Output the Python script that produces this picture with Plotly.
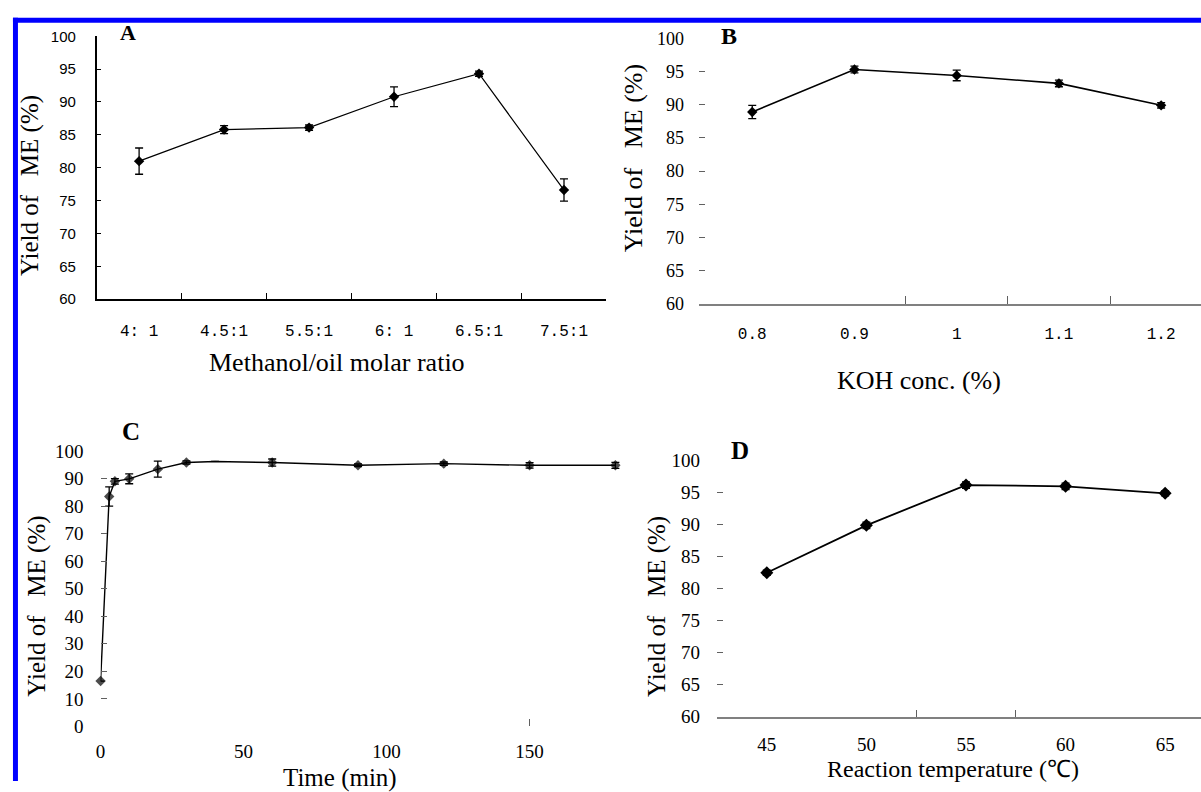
import plotly.graph_objects as go

# ---------------- data ----------------
# Panel A
ratio_labels = ["4: 1", "4.5:1", "5.5:1", "6: 1", "6.5:1", "7.5:1"]
ratio_yield = [81.0, 85.8, 86.1, 90.8, 94.3, 76.6]
ratio_err = [2.0, 0.6, 0.4, 1.5, 0.4, 1.7]

# Panel B
koh_conc = [0.8, 0.9, 1.0, 1.1, 1.2]
koh_labels = ["0.8", "0.9", "1", "1.1", "1.2"]
koh_yield = [88.9, 95.3, 94.4, 93.2, 89.9]
koh_err = [1.0, 0.5, 0.8, 0.5, 0.4]

# Panel C
time_min = [0, 3, 5, 10, 20, 30, 40, 60, 90, 120, 150, 180]
time_yield = [16.5, 83.5, 89.0, 89.9, 93.4, 95.8, 96.2, 95.8, 94.8, 95.4, 94.8, 94.8]
time_err = [None, 3.5, 1.0, 1.8, 2.9, 0.6, None, 1.3, 0.5, 0.6, 1.0, 1.1]
time_marker = [8, 8, 8, 8, 8, 8, 0, 8, 8, 8, 8, 8]
time_ticks = [0, 50, 100, 150]

# Panel D
temp_c = [45, 50, 55, 60, 65]
temp_yield = [82.5, 89.9, 96.2, 96.0, 94.9]
temp_err = [0.4, 0.5, 0.5, 0.5, 0.4]

W, H = 1201, 792


def px(x):
    return x / W


def py(y):
    return 1 - y / H


SERIF = "Liberation Serif"

fig = go.Figure()

mk = dict(symbol="diamond", color="black", size=8)
eb = dict(type="data", color="black", thickness=1.3, width=4)

fig.add_trace(go.Scatter(x=ratio_labels, y=ratio_yield, mode="lines+markers",
                         line=dict(color="black", width=1.2), marker=mk,
                         error_y=dict(array=ratio_err, **eb),
                         xaxis="x", yaxis="y", cliponaxis=False, showlegend=False))
fig.add_trace(go.Scatter(x=koh_conc, y=koh_yield, mode="lines+markers",
                         line=dict(color="black", width=1.6), marker=mk,
                         error_y=dict(array=koh_err, **eb),
                         xaxis="x2", yaxis="y2", cliponaxis=False, showlegend=False))
fig.add_trace(go.Scatter(x=time_min, y=time_yield, mode="lines+markers",
                         line=dict(color="black", width=1.4),
                         marker=dict(symbol="diamond", color="black", size=time_marker,
                                     line=dict(width=0)),
                         error_y=dict(array=time_err, **eb),
                         xaxis="x3", yaxis="y3", cliponaxis=False, showlegend=False))
fig.add_trace(go.Scatter(x=temp_c, y=temp_yield, mode="lines+markers",
                         line=dict(color="black", width=1.8),
                         marker=dict(symbol="diamond", color="black", size=10),
                         error_y=dict(array=temp_err, **eb),
                         xaxis="x4", yaxis="y4", cliponaxis=False, showlegend=False))

common = dict(showgrid=False, zeroline=False)

fig.update_layout(
    width=W, height=H, margin=dict(l=0, r=0, t=0, b=0),
    paper_bgcolor="white", plot_bgcolor="white",
    # Panel A
    xaxis=dict(domain=[px(92), px(604)], anchor="y", type="category",
               range=[-0.5, 5.5], showline=True, linecolor="black", linewidth=1.5,
               ticks="inside", tickson="boundaries", ticklen=6, tickcolor="black",
               tickfont=dict(family="Liberation Mono", size=16, color="black"),
               ticklabelstandoff=16, **common),
    yaxis=dict(domain=[py(297), py(27)], anchor="x", range=[60, 100], dtick=5,
               showline=True, linecolor="black", linewidth=1.5,
               ticks="inside", ticklen=5, tickcolor="black",
               tickfont=dict(family="Liberation Sans", size=15, color="black"),
               ticklabelstandoff=16, **common),
    # Panel B
    xaxis2=dict(domain=[px(697), 1], anchor="y2", range=[0.748, 1.239],
                showline=True, linecolor="#808080", linewidth=1.5,
                tickvals=koh_conc, ticktext=koh_labels, ticks="",
                minor=dict(tickvals=[0.95, 1.05, 1.15], ticks="inside", ticklen=8,
                           tickcolor="#606060", showgrid=False),
                tickfont=dict(family="Liberation Mono", size=16, color="black"),
                ticklabelstandoff=14, **common),
    yaxis2=dict(domain=[py(302), py(29)], anchor="x2", range=[60, 100], dtick=5,
                showline=False, ticks="inside", ticklen=6, tickcolor="#606060",
                tickfont=dict(family=SERIF, size=18, color="black"),
                ticklabelstandoff=14, **common),
    # Panel C
    xaxis3=dict(domain=[px(96), px(625)], anchor="y3", range=[0, 184.2],
                showline=False, tickvals=time_ticks, ticks="",
                minor=dict(tickvals=[150], ticks="inside", ticklen=7,
                           tickcolor="#606060", showgrid=False),
                tickfont=dict(family=SERIF, size=19, color="black"),
                ticklabelstandoff=12, **common),
    yaxis3=dict(domain=[py(736), py(453)], anchor="x3", range=[0, 100], dtick=10,
                showline=False, ticks="inside", ticklen=6, tickcolor="#606060",
                tickfont=dict(family=SERIF, size=19, color="black"),
                ticklabelstandoff=16, **common),
    # Panel D
    xaxis4=dict(domain=[px(715), 1], anchor="y4", range=[42.5, 66.8],
                showline=True, linecolor="#808080", linewidth=1.5,
                tickvals=temp_c, ticks="",
                minor=dict(tickvals=[52.5, 57.5], ticks="inside", ticklen=7,
                           tickcolor="#606060", showgrid=False),
                tickfont=dict(family=SERIF, size=19, color="black"),
                ticklabelstandoff=10, **common),
    yaxis4=dict(domain=[py(726), py(463)], anchor="x4", range=[60, 100], dtick=5,
                showline=False, ticks="inside", ticklen=6, tickcolor="#606060",
                tickfont=dict(family=SERIF, size=19, color="black"),
                ticklabelstandoff=16, **common),
)

GAP = "\u00a0\u00a0\u00a0"
ytitle = "Yield of" + GAP + "ME (%)"


def ann(text, x, y, size, bold=False, angle=0):
    fig.add_annotation(text=("<b>%s</b>" % text) if bold else text,
                       x=px(x), y=py(y), xref="paper", yref="paper",
                       xanchor="center", yanchor="middle", showarrow=False,
                       textangle=angle,
                       font=dict(family=SERIF, size=size, color="black"))


ann("A", 124, 23, 22, bold=True)
ann("B", 727, 27, 24, bold=True)
ann("C", 127, 433, 25, bold=True)
ann("D", 738, 452, 25, bold=True)

ann(ytitle, 25, 180, 25, angle=-90)
ann(ytitle, 632, 152, 26, angle=-90)
ann(ytitle, 32, 612, 25, angle=-90)
ann(ytitle, 654, 613, 25, angle=-90)

ann("Methanol/oil molar ratio", 333, 362, 26)
ann("KOH conc. (%)", 918, 381, 26)
ann("Time (min)", 336, 789, 25)
ann("Reaction temperature (℃)", 952, 780, 24)

# blue frame (top and left edges of the scanned figure)
fig.add_shape(type="rect", xref="paper", yref="paper", layer="above",
              x0=px(8), x1=1, y0=py(13), y1=py(8),
              fillcolor="#0000FF", line=dict(width=0))
fig.add_shape(type="rect", xref="paper", yref="paper", layer="above",
              x0=px(8), x1=px(13), y0=0, y1=py(8),
              fillcolor="#0000FF", line=dict(width=0))

fig.write_html("out.html", config={"displayModeBar": False},
               post_script="document.body.style.margin='0';document.body.style.overflow='hidden';")
